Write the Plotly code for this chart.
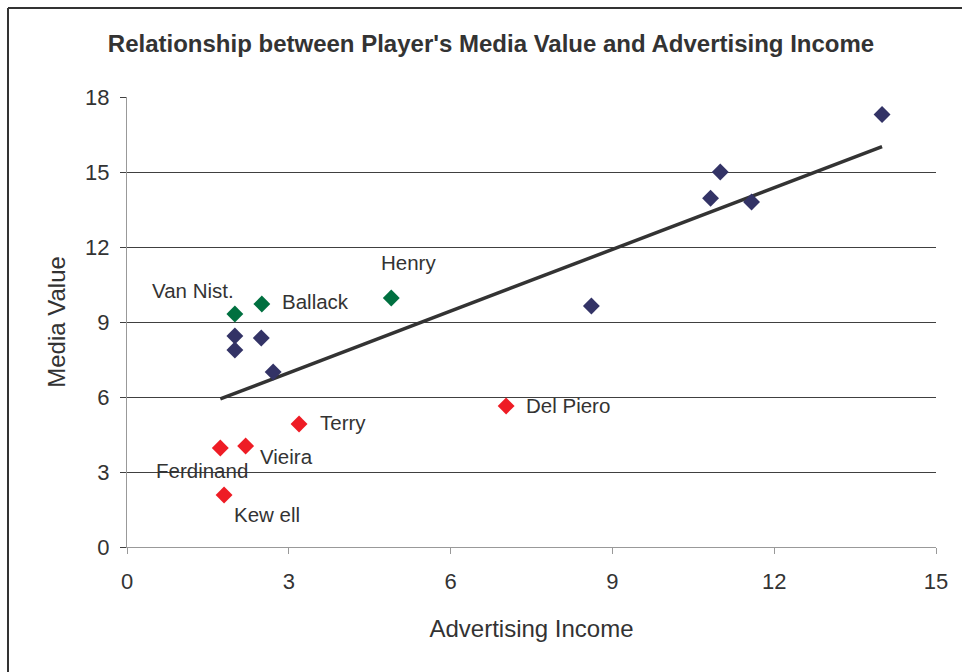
import numpy as np
import plotly.graph_objects as go

# Data
blue_x = [14.0, 11.0, 10.82, 11.58, 8.61, 2.0, 2.0, 2.49, 2.71]
blue_y = [17.3, 15.0, 13.95, 13.8, 9.64, 8.44, 7.88, 8.36, 7.0]

green_names = ["Van Nist.", "Ballack", "Henry"]
green_x = [2.0, 2.5, 4.9]
green_y = [9.32, 9.72, 9.96]

red_names = ["Terry", "Del Piero", "Vieira", "Ferdinand", "Kew ell"]
red_x = [3.19, 7.03, 2.2, 1.73, 1.8]
red_y = [4.92, 5.64, 4.04, 3.96, 2.08]

x_ticks = [0, 3, 6, 9, 12, 15]
y_ticks = [0, 3, 6, 9, 12, 15, 18]

# Linear trend over all points
all_x = np.array(blue_x + green_x + red_x)
all_y = np.array(blue_y + green_y + red_y)
slope, intercept = np.polyfit(all_x, all_y, 1)
tx = np.array([all_x.min(), all_x.max()])
ty = slope * tx + intercept

FONT = "Liberation Sans, Arial, sans-serif"

fig = go.Figure()
fig.add_trace(go.Scatter(x=tx, y=ty, mode="lines",
                         line=dict(color="#333333", width=3.5), hoverinfo="skip"))
fig.add_trace(go.Scatter(x=blue_x, y=blue_y, mode="markers",
                         marker=dict(symbol="diamond", size=13, color="#333366")))
fig.add_trace(go.Scatter(x=green_x, y=green_y, mode="markers",
                         marker=dict(symbol="diamond", size=13, color="#007040")))
fig.add_trace(go.Scatter(x=red_x, y=red_y, mode="markers",
                         marker=dict(symbol="diamond", size=13, color="#ee1c25")))

# label offsets (pixels)
offsets = {
    "Van Nist.": ("center", -42, 24),
    "Ballack": ("left", 18, 3),
    "Henry": ("center", 17, 36),
    "Terry": ("left", 19, 2),
    "Del Piero": ("left", 18, 1),
    "Vieira": ("left", 12, -10),
    "Ferdinand": ("center", -18, -22),
    "Kew ell": ("left", 8, -19),
}
for names, xs, ys in [(green_names, green_x, green_y), (red_names, red_x, red_y)]:
    for n, x, y in zip(names, xs, ys):
        anc, dx, dy = offsets[n]
        fig.add_annotation(x=x, y=y, text=n, showarrow=False, xanchor=anc, yanchor="middle",
                           xshift=dx, yshift=dy, font=dict(family=FONT, size=20.5, color="#333333"))

# outer border lines (top and left)
fig.add_shape(type="line", xref="paper", yref="paper", x0=-0.1471, x1=1.04, y0=1.1978, y1=1.1978,
              line=dict(color="#333333", width=2))
fig.add_shape(type="line", xref="paper", yref="paper", x0=-0.1471, x1=-0.1471, y0=1.1978, y1=-0.29,
              line=dict(color="#333333", width=2))

fig.update_layout(
    width=962, height=672,
    margin=dict(l=127, r=26, t=97, b=125),
    paper_bgcolor="white", plot_bgcolor="white",
    showlegend=False,
    title=dict(text="<b>Relationship between Player's Media Value and Advertising Income</b>",
               x=491 / 962, xanchor="center", y=1 - 44 / 672, yanchor="middle",
               font=dict(family=FONT, size=24, color="#333333")),
    font=dict(family=FONT, color="#333333"),
)
fig.update_xaxes(range=[0, 15], tickvals=x_ticks, showgrid=False, zeroline=False,
                 showline=True, linecolor="#999999", linewidth=1,
                 ticks="outside", ticklen=6, tickcolor="#999999",
                 tickfont=dict(family=FONT, size=22, color="#333333"),
                 ticklabelstandoff=9,
                 title=dict(text="Advertising Income", font=dict(family=FONT, size=24, color="#333333"),
                            standoff=26))
fig.update_yaxes(range=[0, 18], tickvals=y_ticks, showgrid=True, gridcolor="#404040", gridwidth=1,
                 zeroline=True, zerolinecolor="#404040", zerolinewidth=1,
                 showline=True, linecolor="#999999", linewidth=1,
                 ticks="outside", ticklen=6, tickcolor="#404040",
                 tickfont=dict(family=FONT, size=22, color="#333333"),
                 ticklabelstandoff=6,
                 title=dict(text="Media Value", font=dict(family=FONT, size=24, color="#333333"),
                            standoff=12))

fig.write_html("out.html")
